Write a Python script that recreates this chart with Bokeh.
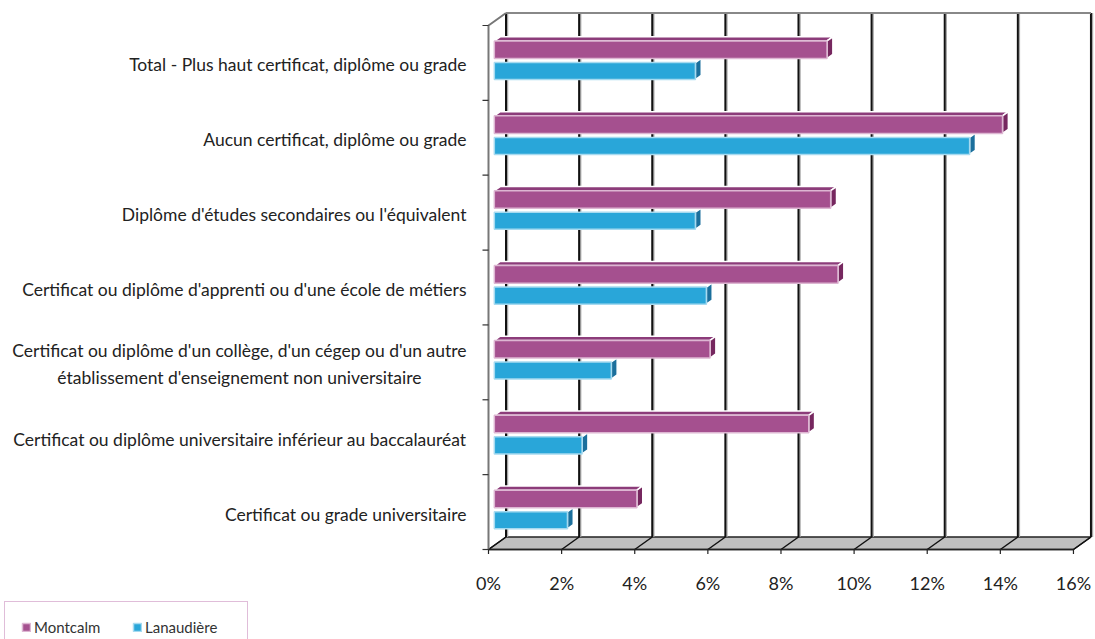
from bokeh.plotting import figure
from bokeh.models import Legend, LegendItem, Range1d
from bokeh.core.properties import value
from bokeh.embed import file_html
from bokeh.resources import INLINE

# ---- data ----
categories = [
    "Total - Plus haut certificat, diplôme ou grade",
    "Aucun certificat, diplôme ou grade",
    "Diplôme d'études secondaires ou l'équivalent",
    "Certificat ou diplôme d'apprenti ou d'une école de métiers",
    "Certificat ou diplôme d'un collège, d'un cégep ou d'un autre\nétablissement d'enseignement non universitaire",
    "Certificat ou diplôme universitaire inférieur au baccalauréat",
    "Certificat ou grade universitaire",
]
montcalm = [9.1, 13.9, 9.2, 9.4, 5.9, 8.6, 3.9]
lanaudiere = [5.5, 13.0, 5.5, 5.8, 3.2, 2.4, 2.0]
series_names = ["Montcalm", "Lanaudière"]
x_ticks = [0, 2, 4, 6, 8, 10, 12, 14, 16]
x_tick_labels = ["0%", "2%", "4%", "6%", "8%", "10%", "12%", "14%", "16%"]

# ---- styling / geometry ----
W, H = 1095, 639
SX = 36.56      # px per percent
SY = 74.86      # px per category band
X0PX = 488      # canvas x of 0 %
Y0PX = 549      # canvas y of the front floor edge

PURPLE = "#A5508F"
PURPLE_EDGE = "#DDB6D2"
PURPLE_TOP = "#8C3C7A"
PURPLE_SIDE = "#76275F"
BLUE = "#29A6D9"
BLUE_EDGE = "#A6DAF0"
BLUE_SIDE = "#1B6F9C"
FONT = value("Lato")
TEXT_COLOR = "#222222"

N = len(categories)
XMAX = x_ticks[-1]
DX = 17.5 / SX   # depth offset along x
DY = 12.5 / SY   # depth offset along y
BX = DX / 3.0
BY = DY / 3.0

p = figure(width=W, height=H,
           x_range=Range1d(-X0PX / SX, (W - X0PX) / SX),
           y_range=Range1d(-(H - Y0PX) / SY, Y0PX / SY),
           x_axis_type=None, y_axis_type=None,
           output_backend="svg", toolbar_location=None, min_border=0)
p.outline_line_color = None
p.background_fill_color = "white"
p.border_fill_color = "white"

# floor
p.patch([0, XMAX, XMAX + DX, DX], [0, 0, DY, DY],
        fill_color="#C0C0C0", line_color="#222222", line_width=1.5)
# floor diagonals
p.segment(x0=x_ticks, y0=[0] * len(x_ticks),
          x1=[t + DX for t in x_ticks], y1=[DY] * len(x_ticks),
          line_color="#111111", line_width=1.5)
# back wall grid lines (with light shadow)
p.segment(x0=[t + DX + 1.5 / SX for t in x_ticks], y0=[DY] * len(x_ticks),
          x1=[t + DX + 1.5 / SX for t in x_ticks], y1=[N + DY] * len(x_ticks),
          line_color="#A8A8A8", line_width=1.5)
p.segment(x0=[t + DX for t in x_ticks], y0=[DY] * len(x_ticks),
          x1=[t + DX for t in x_ticks], y1=[N + DY] * len(x_ticks),
          line_color="#111111", line_width=2)
# back wall top edge
p.segment(x0=[DX], y0=[N + DY], x1=[XMAX + DX], y1=[N + DY],
          line_color="#888888", line_width=2)
# left wall front edge + top diagonal
p.line([0, 0, DX], [0, N, N + DY], line_color="#777777", line_width=2)
# front floor edge
p.segment(x0=[0], y0=[0], x1=[XMAX], y1=[0], line_color="#222222", line_width=1.5)

# x-axis tick marks and labels
p.segment(x0=x_ticks, y0=[0] * len(x_ticks), x1=x_ticks, y1=[-4.5 / SY] * len(x_ticks),
          line_color="#222222", line_width=1.2)
p.text(x=x_ticks, y=[-33 / SY] * len(x_ticks), text=x_tick_labels,
       text_align="center", text_baseline="middle",
       text_font=FONT, text_font_size="18px", text_color=TEXT_COLOR)

# y-axis boundary ticks and category labels
bounds = list(range(N + 1))
p.segment(x0=[-6 / SX] * len(bounds), y0=bounds, x1=[0] * len(bounds), y1=bounds,
          line_color="#333333", line_width=1.2)
band_tops = [N - i for i in range(N)]
centers = [b - 0.5 - 2.0 / SY for b in band_tops]
p.text(x=[-22 / SX] * N, y=centers, text=categories,
       anchor="center_right", text_align="center", text_baseline="middle",
       text_line_height=1.3,
       text_font=FONT, text_font_size="17.5px", text_color=TEXT_COLOR)

# bars
m_top = [b - 0.207 for b in band_tops]
m_bot = [b - 0.442 for b in band_tops]
l_top = [b - 0.495 for b in band_tops]
l_bot = [b - 0.723 for b in band_tops]

# Lanaudière side faces + front
p.patches(xs=[[v + BX, v + 2 * BX, v + 2 * BX, v + BX] for v in lanaudiere],
          ys=[[b, b + BY, t + BY, t] for b, t in zip(l_bot, l_top)],
          fill_color=BLUE_SIDE, line_color="white", line_width=1.5)
r_l = p.quad(left=[BX] * N, right=[v + BX for v in lanaudiere], top=l_top, bottom=l_bot,
             fill_color=BLUE, line_color=BLUE_EDGE, line_width=1.5)

# Montcalm top + side faces + front
p.patches(xs=[[BX, v + BX, v + 2 * BX, 2 * BX] for v in montcalm],
          ys=[[t, t, t + BY, t + BY] for t in m_top],
          fill_color=PURPLE_TOP, line_color="white", line_width=1.5)
p.patches(xs=[[v + BX, v + 2 * BX, v + 2 * BX, v + BX] for v in montcalm],
          ys=[[b, b + BY, t + BY, t] for b, t in zip(m_bot, m_top)],
          fill_color=PURPLE_SIDE, line_color="white", line_width=1.5)
r_m = p.quad(left=[BX] * N, right=[v + BX for v in montcalm], top=m_top, bottom=m_bot,
             fill_color=PURPLE, line_color=PURPLE_EDGE, line_width=1.5)

# legend (bottom-left, running off the bottom edge like the original)
legend = Legend(items=[LegendItem(label=series_names[0], renderers=[r_m]),
                       LegendItem(label=series_names[1], renderers=[r_l])],
                orientation="horizontal", location=(4, -14),
                glyph_width=10, glyph_height=10, label_height=14, label_width=86,
                label_standoff=3, spacing=12, padding=16, margin=0,
                label_text_font="Lato", label_text_font_size="15px",
                label_text_color="#333333",
                border_line_color="#C27BB4", border_line_width=1,
                background_fill_color="white", background_fill_alpha=1.0)
p.add_layout(legend)

open("out.html", "w").write(file_html(p, INLINE, title="Plus haut certificat"))
